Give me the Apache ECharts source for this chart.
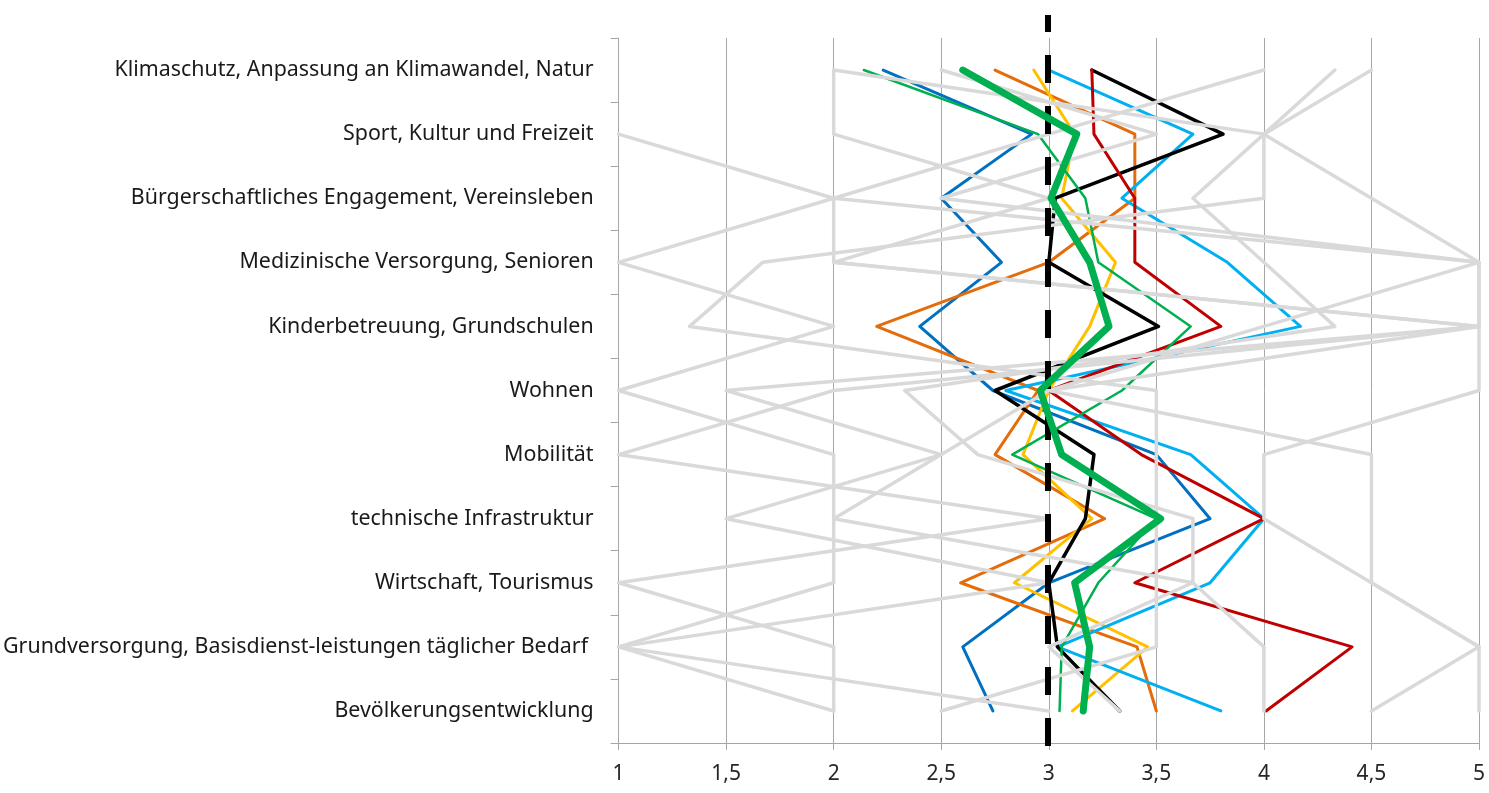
<!DOCTYPE html>
<html>
<head>
<meta charset="utf-8">
<script src="https://cdn.jsdelivr.net/npm/echarts@6/dist/echarts.min.js"></script>
<style>
  html, body { margin: 0; padding: 0; background: #fff; }
  #chart { width: 1489px; height: 793px; }
</style>
</head>
<body>
<div id="chart"></div>
<script>
// Kategorien von oben nach unten
var categories = [
  'Klimaschutz, Anpassung an Klimawandel, Natur',
  'Sport, Kultur und Freizeit',
  'Bürgerschaftliches Engagement, Vereinsleben',
  'Medizinische Versorgung, Senioren',
  'Kinderbetreuung, Grundschulen',
  'Wohnen',
  'Mobilität',
  'technische Infrastruktur',
  'Wirtschaft, Tourismus',
  'Grundversorgung, Basisdienst-leistungen täglicher Bedarf ',
  'Bevölkerungsentwicklung'
];

var referenceValue = 3;

// farbige Gruppen
var darkBlue  = [2.23, 2.92, 2.5, 2.78, 2.4, 2.74, 3.5, 3.75, 3.0, 2.6, 2.74];
var orange    = [2.75, 3.4, 3.4, 3.0, 2.2, 2.95, 2.75, 3.26, 2.59, 3.41, 3.5];
var yellow    = [2.93, 3.12, 3.06, 3.31, 3.19, 3.0, 2.88, 3.2, 2.84, 3.46, 3.11];
var lightBlue = [3.0, 3.67, 3.34, 3.83, 4.17, 2.8, 3.66, 4.0, 3.75, 3.04, 3.8];
var black     = [3.2, 3.81, 3.03, 3.0, 3.51, 2.75, 3.21, 3.17, 3.0, 3.04, 3.33];
var red       = [3.2, 3.21, 3.4, 3.4, 3.8, 3.0, 3.43, 4.0, 3.4, 4.41, 4.01];
var greenThin = [2.14, 2.95, 3.17, 3.23, 3.66, 3.34, 2.83, 3.5, 3.23, 3.06, 3.05];
var average   = [2.6, 3.13, 3.01, 3.19, 3.28, 2.96, 3.06, 3.52, 3.12, 3.19, 3.16];

// einzelne Gemeinden (grau)
var gray1 = [4.0, 3.0, 2.0, 1.0, 2.0, 1.0, 2.0, 2.0, 2.0, 1.0, 2.0];
var gray2 = [2.0, 2.0, 3.0, 2.0, 5.0, 1.5, 2.5, 1.5, 3.0, 1.0, 3.0];
var gray3 = [2.0, 4.0, 4.0, 1.67, 1.33, 3.5, 3.5, 3.5, 3.5, 3.5, 2.5];
var gray4 = [2.5, 3.5, 2.5, 5.0, 5.0, 5.0, 4.0, 4.0, 4.5, 5.0, 5.0];
var gray5 = [4.33, 4.0, 3.67, 4.0, 4.33, 2.33, 2.67, 3.67, 3.67, 3.0, 3.33];
var gray6 = [4.5, 4.0, 4.5, 5.0, 5.0, 3.0, 4.5, 4.5, 4.5, 5.0, 4.5];
var gray7 = [null, 1.0, 2.0, 2.0, 5.0, 2.0, 1.0, 3.0, 1.0, 2.0, 2.0];
var gray8 = [null, null, 2.0, 5.0, 4.0, 3.0, 2.5, 2.0, 3.67, 4.0, 4.0];

var grayRows = [gray1, gray2, gray3, gray4, gray5, gray6, gray7, gray8];

function toPoints(values) {
  var pts = [];
  for (var i = 0; i < values.length; i++) {
    pts.push(values[i] == null ? [null, categories[i]] : [values[i], categories[i]]);
  }
  return pts;
}

function lineSeries(name, values, color, width, z) {
  return {
    name: name,
    type: 'line',
    xAxisIndex: 0,
    yAxisIndex: 0,
    data: toPoints(values),
    symbol: 'none',
    connectNulls: false,
    lineStyle: { color: color, width: width, cap: 'round', join: 'round' },
    z: z,
    silent: true
  };
}

var series = [
  lineSeries('Gruppe 1', darkBlue, '#0070C0', 3, 2),
  lineSeries('Gruppe 2', orange, '#E46C0A', 3, 2),
  lineSeries('Gruppe 3', yellow, '#FFC000', 3, 2),
  lineSeries('Gruppe 4', lightBlue, '#00B0F0', 3, 2),
  lineSeries('Gruppe 5', black, '#000000', 3.5, 2),
  lineSeries('Gruppe 6', red, '#C00000', 3, 2),
  lineSeries('Gruppe 7', greenThin, '#00B050', 2.5, 2)
];

grayRows.forEach(function (row, i) {
  series.push(lineSeries('Gemeinde ' + (i + 1), row, '#D9D9D9', 3.5, 3));
});

// gestrichelte Linie bei 3
series.push({
  name: 'Mitte',
  type: 'line',
  xAxisIndex: 1,
  yAxisIndex: 1,
  data: [[referenceValue, 0], [referenceValue, 1]],
  symbol: 'none',
  lineStyle: { color: '#000', width: 6, type: [28, 23] },
  z: 4,
  silent: true
});

series.push(lineSeries('Durchschnitt', average, '#00B050', 7, 5));

var chart = echarts.init(document.getElementById('chart'));
chart.setOption({
  animation: false,
  backgroundColor: '#ffffff',
  textStyle: { fontFamily: 'Noto Sans' },
  grid: [
    { left: 617, right: 10, top: 38, bottom: 50 },
    { left: 617, right: 10, top: 15, bottom: 47 }
  ],
  xAxis: [
    {
      type: 'value',
      gridIndex: 0,
      min: 1,
      max: 5,
      interval: 0.5,
      axisLine: { show: true, lineStyle: { color: '#A6A6A6', width: 1 } },
      axisTick: { show: true, length: 7, lineStyle: { color: '#A6A6A6' } },
      splitLine: { show: true, lineStyle: { color: '#A6A6A6', width: 1 } },
      axisLabel: {
        color: '#262626',
        fontSize: 21,
        margin: 21,
        formatter: function (v) { return String(v).replace('.', ','); }
      }
    },
    {
      type: 'value',
      gridIndex: 1,
      min: 1,
      max: 5,
      show: false
    }
  ],
  yAxis: [
    {
      type: 'category',
      gridIndex: 0,
      data: categories,
      inverse: true,
      boundaryGap: true,
      axisLine: { show: true, lineStyle: { color: '#A6A6A6', width: 1 } },
      axisTick: { show: true, length: 8, lineStyle: { color: '#A6A6A6' } },
      splitLine: { show: false },
      axisLabel: { color: '#1a1a1a', fontSize: 21.4, margin: 25 }
    },
    {
      type: 'value',
      gridIndex: 1,
      min: 0,
      max: 1,
      show: false
    }
  ],
  series: series
});
</script>
</body>
</html>
